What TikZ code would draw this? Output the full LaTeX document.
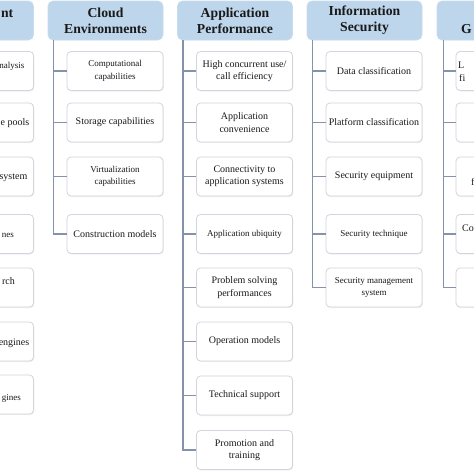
\documentclass[tikz,border=0pt]{standalone}
\usepackage{fontspec}
\setmainfont{Liberation Serif}
\usetikzlibrary{shadows}
\definecolor{hdrblue}{RGB}{190,214,236}
\definecolor{hdredge}{RGB}{200,220,238}
\definecolor{boxedge}{RGB}{210,212,222}
\definecolor{linecol}{RGB}{132,146,170}
\definecolor{txtcol}{RGB}{25,25,25}
\tikzset{
  hdr/.style={rectangle, rounded corners=5pt, fill=hdrblue, draw=hdredge, line width=0.6pt,
    minimum width=115pt, minimum height=39pt, inner sep=0pt, align=center,
    font=\fontsize{13.7}{16}\selectfont\bfseries, text=txtcol},
  hdrtxt/.style={inner sep=0pt, font=\fontsize{13.7}{16}\selectfont\bfseries, text=txtcol},
  itm/.style={rectangle, rounded corners=4pt, fill=white, draw=boxedge, line width=0.8pt,
    minimum width=96pt, minimum height=39pt, inner sep=0pt, align=center,
    drop shadow={opacity=0.12, shadow xshift=0.8pt, shadow yshift=-1pt},
    font=\fontsize{10}{12.5}\selectfont, text=txtcol},
  sm/.style={font=\fontsize{9}{12.5}\selectfont},
  frag/.style={inner sep=0pt, font=\fontsize{10}{12.5}\selectfont, text=txtcol},
  conn/.style={draw=linecol, line width=1.2pt}
}
\begin{document}
\begin{tikzpicture}[x=1pt,y=-1pt]
\useasboundingbox (0,0) rectangle (474,474);
\clip (0,0) rectangle (474,474);
\fill[white] (0,0) rectangle (474,474);

% ---------- headers ----------
\node[hdr] (h0) at (-24,20.5) {};
\node[hdrtxt, anchor=base east] (h0t) at (13.5,17.5) {nt};
\node[hdr] (h1) at (105.5,20.5) {Cloud\\Environments};
\node[hdr] (h2) at (235,20.5) {Application\\Performance};
\node[hdr] (h3) at (364.5,20.5) {Information\\Security};
\node[hdr] (h4) at (494.5,20.5) {};
\node[hdrtxt, anchor=base west] (h4t) at (461,33.5) {G};

% ---------- column 0 (cut off at left) ----------
\node[itm] (a1) at (-14.5,71) {};
\node[itm] (a2) at (-14.5,122.5) {};
\node[itm] (a3) at (-14.5,176.5) {};
\node[itm] (a4) at (-14.5,234) {};
\node[itm] (a5) at (-14.5,287.5) {};
\node[itm] (a6) at (-14.5,341.5) {};
\node[itm] (a7) at (-14.5,394.5) {};
\node[frag, sm, anchor=base east] (a1t) at (24.5,68.5) {nalysis};
\node[frag, anchor=base east] (a2t) at (29.5,125.5) {e pools};
\node[frag, anchor=base east] (a3t) at (27.5,179.5) {system};
\node[frag, sm, anchor=base east] (a4t) at (14,237) {nes};
\node[frag, anchor=base east] (a5t) at (15,284) {rch};
\node[frag, anchor=base east] (a6t) at (29.5,345) {engines};
\node[frag, sm, anchor=base east] (a7t) at (21,400) {gines};

% ---------- column 1: Cloud Environments ----------
\node[itm, sm] (b1) at (115,71) {Computational\\capabilities};
\node[itm] (b2) at (115,122.5) {Storage capabilities};
\node[itm, sm] (b3) at (115,176.5) {Virtualization\\capabilities};
\node[itm] (b4) at (115,234) {Construction models};

% ---------- column 2: Application Performance ----------
\node[itm] (c1) at (244.5,71) {High concurrent use/\\call efficiency};
\node[itm] (c2) at (244.5,122.5) {Application\\convenience};
\node[itm] (c3) at (244.5,176.5) {Connectivity to\\application systems};
\node[itm, sm] (c4) at (244.5,234) {Application ubiquity};
\node[itm] (c5) at (244.5,287.5) {Problem solving\\performances};
\node[itm] (c6) at (244.5,341.5) {Operation models};
\node[itm] (c7) at (244.5,395.5) {Technical support};
\node[itm] (c8) at (244.5,450) {Promotion and\\training};

% ---------- column 3: Information Security ----------
\node[itm] (d1) at (374,71) {Data classification};
\node[itm] (d2) at (374,122.5) {Platform classification};
\node[itm] (d3) at (374,176.5) {Security equipment};
\node[itm, sm] (d4) at (374,234) {Security technique};
\node[itm, sm] (d5) at (374,287.5) {Security management\\system};

% ---------- column 4 (cut off at right) ----------
\node[itm] (e1) at (504,71) {};
\node[itm] (e2) at (504,122.5) {};
\node[itm] (e3) at (504,176.5) {};
\node[itm] (e4) at (504,234) {};
\node[itm] (e5) at (504,287.5) {};
\node[frag, anchor=base west] (e1t) at (458,68.5) {L};
\node[frag, anchor=base west] (e1u) at (459,81) {fi};
\node[frag, anchor=base west] (e3t) at (471,185.5) {f};
\node[frag, anchor=base west] (e4t) at (462,231) {Co};

% ---------- connectors ----------
\coordinate (t1) at (53.5,40);
\coordinate (t2) at (183,40);
\coordinate (t3) at (312.5,40);
\coordinate (t4) at (443.5,40);

\draw[conn] (t1) -- (t1 |- b4.west) -- (b4.west);
\foreach \n in {b1,b2,b3} \draw[conn] (t1 |- \n.west) -- (\n.west);

\draw[conn] (t2) -- (t2 |- c8.west) -- (c8.west);
\foreach \n in {c1,c2,c3,c4,c5,c6,c7} \draw[conn] (t2 |- \n.west) -- (\n.west);

\draw[conn] (t3) -- (t3 |- d5.west) -- (d5.west);
\foreach \n in {d1,d2,d3,d4} \draw[conn] (t3 |- \n.west) -- (\n.west);

\draw[conn] (t4) -- (t4 |- e5.west) -- (e5.west);
\foreach \n in {e1,e2,e3,e4} \draw[conn] (t4 |- \n.west) -- (\n.west);
\end{tikzpicture}
\end{document}
